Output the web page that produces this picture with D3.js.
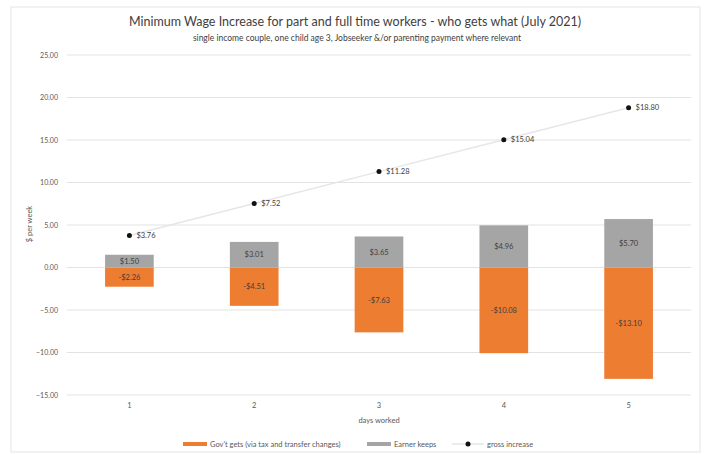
<!DOCTYPE html>
<html>
<head>
<meta charset="utf-8">
<script src="https://cdn.jsdelivr.net/npm/d3@7"></script>
<style>
  body { margin: 0; background: #fff; }
  text { font-family: Lato, "Open Sans", sans-serif; }
</style>
</head>
<body>
<div id="chart"></div>
<script>
// chart data
var days = ["1", "2", "3", "4", "5"];
var govGets = [-2.26, -4.51, -7.63, -10.08, -13.10];
var earnerKeeps = [1.50, 3.01, 3.65, 4.96, 5.70];
var grossIncrease = [3.76, 7.52, 11.28, 15.04, 18.80];
var yTicks = [-15, -10, -5, 0, 5, 10, 15, 20, 25];

var W = 709, H = 454;
var margin = { top: 55, right: 18, bottom: 59, left: 67 };
var w = W - margin.left - margin.right;
var h = H - margin.top - margin.bottom;

var orange = "#ed7d31", grey = "#a5a5a5", txt = "#595959";

var svg = d3.select("#chart").append("svg")
    .attr("width", W)
    .attr("height", H);

// chart border
svg.append("rect")
    .attr("x", 11).attr("y", 7)
    .attr("width", 689).attr("height", 445)
    .attr("fill", "#fff")
    .attr("stroke", "#e4e4e4");

var g = svg.append("g")
    .attr("transform", "translate(" + margin.left + "," + margin.top + ")");

var xScale = d3.scaleBand()
    .domain(days)
    .range([0, w])
    .paddingInner(0.61)
    .paddingOuter(0.305);

var yScale = d3.scaleLinear()
    .domain([-15, 25])
    .range([h, 0]);

// gridlines
g.selectAll(".grid")
    .data(yTicks)
    .enter()
    .append("line")
    .attr("x1", 0)
    .attr("x2", w)
    .attr("y1", function(d) { return yScale(d); })
    .attr("y2", function(d) { return yScale(d); })
    .attr("stroke", "#e3e3e3")
    .attr("stroke-width", 1);

// y axis
var yAxis = d3.axisLeft(yScale)
    .tickValues(yTicks)
    .tickSize(0)
    .tickPadding(9)
    .tickFormat(d3.format(".2f"));
var yg = g.append("g").call(yAxis);
yg.select(".domain").remove();
yg.selectAll("text").attr("fill", txt).attr("font-size", "7px");

// x axis
var xAxis = d3.axisBottom(xScale).tickSize(0).tickPadding(8);
var xg = g.append("g")
    .attr("transform", "translate(0," + h + ")")
    .call(xAxis);
xg.select(".domain").remove();
xg.selectAll("text").attr("fill", txt).attr("font-size", "7.5px");

// bars - gov't gets
g.selectAll(".gov")
    .data(govGets)
    .enter()
    .append("rect")
    .attr("x", function(d, i) { return xScale(days[i]); })
    .attr("y", yScale(0))
    .attr("width", xScale.bandwidth())
    .attr("height", function(d) { return yScale(d) - yScale(0); })
    .attr("fill", orange);

// bars - earner keeps
g.selectAll(".keep")
    .data(earnerKeeps)
    .enter()
    .append("rect")
    .attr("x", function(d, i) { return xScale(days[i]); })
    .attr("y", function(d) { return yScale(d); })
    .attr("width", xScale.bandwidth())
    .attr("height", function(d) { return yScale(0) - yScale(d); })
    .attr("fill", grey);

// bar labels
var money = function(v) { return (v < 0 ? "-$" : "$") + Math.abs(v).toFixed(2); };

g.selectAll(".govLabel")
    .data(govGets)
    .enter()
    .append("text")
    .attr("x", function(d, i) { return xScale(days[i]) + xScale.bandwidth() / 2; })
    .attr("y", function(d) { return yScale(d / 2); })
    .attr("dy", "0.35em")
    .attr("text-anchor", "middle")
    .attr("font-size", "7.5px")
    .attr("fill", "#404040")
    .text(money);

g.selectAll(".keepLabel")
    .data(earnerKeeps)
    .enter()
    .append("text")
    .attr("x", function(d, i) { return xScale(days[i]) + xScale.bandwidth() / 2; })
    .attr("y", function(d) { return yScale(d / 2); })
    .attr("dy", "0.35em")
    .attr("text-anchor", "middle")
    .attr("font-size", "7.5px")
    .attr("fill", "#404040")
    .text(money);

// gross increase line + dots
var cx = function(i) { return xScale(days[i]) + xScale.bandwidth() / 2; };
var line = d3.line()
    .x(function(d, i) { return cx(i); })
    .y(function(d) { return yScale(d); });

g.append("path")
    .datum(grossIncrease)
    .attr("d", line)
    .attr("fill", "none")
    .attr("stroke", "#e6e6e6")
    .attr("stroke-width", 1.5);

g.selectAll(".dot")
    .data(grossIncrease)
    .enter()
    .append("circle")
    .attr("cx", function(d, i) { return cx(i); })
    .attr("cy", function(d) { return yScale(d); })
    .attr("r", 2.5)
    .attr("fill", "#111");

g.selectAll(".dotLabel")
    .data(grossIncrease)
    .enter()
    .append("text")
    .attr("x", function(d, i) { return cx(i) + 7; })
    .attr("y", function(d) { return yScale(d); })
    .attr("dy", "0.35em")
    .attr("font-size", "7.5px")
    .attr("fill", "#404040")
    .text(money);

// titles
svg.append("text")
    .attr("x", 355).attr("y", 26)
    .attr("text-anchor", "middle")
    .attr("font-size", "12.5px")
    .attr("fill", "#404040")
    .text("Minimum Wage Increase for part and full time workers - who gets what (July 2021)");

svg.append("text")
    .attr("x", 357).attr("y", 41)
    .attr("text-anchor", "middle")
    .attr("font-size", "8.5px")
    .attr("fill", "#404040")
    .text("single income couple, one child age 3, Jobseeker &/or parenting payment where relevant");

// axis titles
svg.append("text")
    .attr("transform", "translate(32," + 224 + ") rotate(-90)")
    .attr("text-anchor", "middle")
    .attr("font-size", "7.5px")
    .attr("fill", txt)
    .text("$ per week");

svg.append("text")
    .attr("x", margin.left + w / 2).attr("y", 423)
    .attr("text-anchor", "middle")
    .attr("font-size", "7.5px")
    .attr("fill", txt)
    .text("days worked");

// legend
var lg = svg.append("g").attr("transform", "translate(0,444)");
lg.append("rect").attr("x", 183).attr("y", -2).attr("width", 24).attr("height", 4).attr("fill", orange);
lg.append("text").attr("x", 210).attr("dy", "0.35em").attr("font-size", "7.5px").attr("fill", txt)
    .text("Gov't gets (via tax and transfer changes)");
lg.append("rect").attr("x", 367).attr("y", -2).attr("width", 24).attr("height", 4).attr("fill", grey);
lg.append("text").attr("x", 394).attr("dy", "0.35em").attr("font-size", "7.5px").attr("fill", txt)
    .text("Earner keeps");
lg.append("line").attr("x1", 452).attr("x2", 484).attr("y1", 0).attr("y2", 0).attr("stroke", "#e6e6e6").attr("stroke-width", 1.5);
lg.append("circle").attr("cx", 468).attr("cy", 0).attr("r", 2.5).attr("fill", "#111");
lg.append("text").attr("x", 487).attr("dy", "0.35em").attr("font-size", "7.5px").attr("fill", txt)
    .text("gross increase");
</script>
</body>
</html>
